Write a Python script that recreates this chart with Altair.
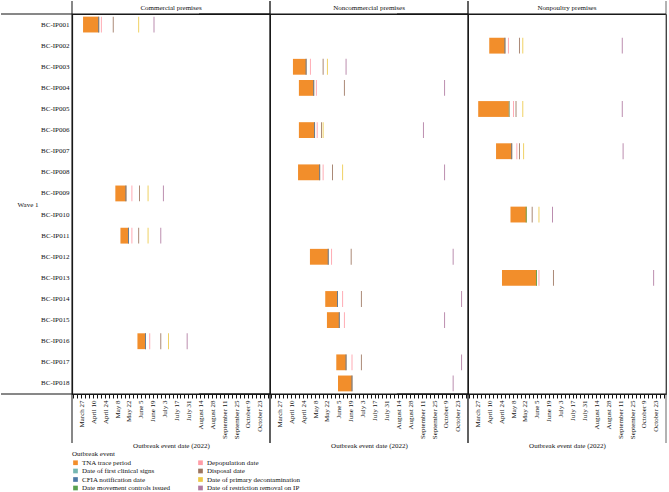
import altair as alt
import pandas as pd
from datetime import datetime, timezone

# ---------------- data ----------------
ips = ["BC-IP001", "BC-IP002", "BC-IP003", "BC-IP004", "BC-IP005", "BC-IP006",
       "BC-IP007", "BC-IP008", "BC-IP009", "BC-IP010", "BC-IP011", "BC-IP012",
       "BC-IP013", "BC-IP014", "BC-IP015", "BC-IP016", "BC-IP017", "BC-IP018"]
premises = ["Commercial premises", "Nonpoultry premises", "Noncommercial premises",
            "Noncommercial premises", "Nonpoultry premises", "Noncommercial premises",
            "Nonpoultry premises", "Noncommercial premises", "Commercial premises",
            "Nonpoultry premises", "Commercial premises", "Noncommercial premises",
            "Nonpoultry premises", "Noncommercial premises", "Noncommercial premises",
            "Commercial premises", "Noncommercial premises", "Noncommercial premises"]
premises_order = ["Commercial premises", "Noncommercial premises", "Nonpoultry premises"]
wave_label = "Wave 1"

trace_start = ["2022-03-29", "2022-04-10", "2022-04-12", "2022-04-19", "2022-03-28", "2022-04-19",
               "2022-04-18", "2022-04-18", "2022-05-06", "2022-05-05", "2022-05-12", "2022-05-02",
               "2022-04-25", "2022-05-20", "2022-05-22", "2022-06-01", "2022-06-02", "2022-06-04"]
trace_end = ["2022-04-17", "2022-04-29", "2022-04-28", "2022-05-07", "2022-05-04", "2022-05-08",
             "2022-05-07", "2022-05-14", "2022-05-19", "2022-05-24", "2022-05-22", "2022-05-24",
             "2022-06-05", "2022-06-04", "2022-06-06", "2022-06-11", "2022-06-14", "2022-06-21"]
# event shown at the right edge of the trace bar
edge_event = ["CFIA notification date", "CFIA notification date", "CFIA notification date",
              "CFIA notification date", "Date of first clinical signs", "CFIA notification date",
              "CFIA notification date", "CFIA notification date", "CFIA notification date",
              "Date movement controls issued", "CFIA notification date", "CFIA notification date",
              "Date movement controls issued", "CFIA notification date", "CFIA notification date",
              "CFIA notification date", "CFIA notification date", "CFIA notification date"]
edge_date = ["2022-04-16", "2022-04-28", "2022-04-27", "2022-05-06", "2022-05-03", "2022-05-07",
             "2022-05-06", "2022-05-13", "2022-05-18", "2022-05-23", "2022-05-21", "2022-05-23",
             "2022-06-04", "2022-06-03", "2022-06-05", "2022-06-10", "2022-06-13", "2022-06-20"]
depopulation = ["2022-04-19", "2022-05-02", "2022-05-02", "2022-05-09", "2022-05-08", "2022-05-10",
                "2022-05-12", "2022-05-17", "2022-05-25", None, "2022-05-25", "2022-05-27",
                "2022-06-07", "2022-06-09", "2022-06-11", "2022-06-15", "2022-06-20", None]
disposal = ["2022-05-03", "2022-05-15", "2022-05-17", "2022-06-11", "2022-05-11", "2022-05-15",
            "2022-05-15", "2022-05-28", "2022-06-03", "2022-05-30", "2022-06-02", "2022-06-19",
            "2022-06-24", "2022-07-01", None, "2022-06-28", "2022-07-01", None]
decontamination = ["2022-06-02", "2022-05-19", "2022-05-22", None, "2022-05-19", "2022-05-17",
                   "2022-05-20", "2022-06-09", "2022-06-13", "2022-06-07", "2022-06-13", None,
                   None, None, None, "2022-07-07", None, None]
restriction_removal = ["2022-06-20", "2022-09-13", "2022-06-13", "2022-10-07", "2022-09-13", "2022-09-12",
                       "2022-09-14", "2022-10-07", "2022-07-01", "2022-06-23", "2022-06-28", "2022-10-17",
                       "2022-10-20", "2022-10-27", "2022-10-07", "2022-07-29", "2022-10-27", "2022-10-17"]

events = ["TNA trace period", "Date of first clinical signs", "CFIA notification date",
          "Date movement controls issued", "Depopulation date", "Disposal date",
          "Date of primary decontamination", "Date of restriction removal on IP"]
event_colors = ["#F28E2B", "#76B7B2", "#4E79A7", "#59A14F",
                "#FF9DA7", "#9C755F", "#EDC948", "#B07AA1"]

tick_labels_start = "2022-03-27"   # first labelled tick; labels every 14 days
domain_start = "2022-03-16"
domain_end = "2022-11-04"

# ---------------- table ----------------
rows = []
for i, ip in enumerate(ips):
    rows.append(dict(ip=ip, premises=premises[i], event=events[0],
                     start=trace_start[i], end=trace_end[i]))
single = [(edge_event, edge_date, None), (None, depopulation, events[4]),
          (None, disposal, events[5]), (None, decontamination, events[6]),
          (None, restriction_removal, events[7])]
for ev_list, dates, ev_name in single:
    for i, ip in enumerate(ips):
        d = dates[i]
        if d is None:
            continue
        name = ev_list[i] if ev_list is not None else ev_name
        d1 = (pd.Timestamp(d) + pd.Timedelta(days=1)).strftime("%Y-%m-%d")
        rows.append(dict(ip=ip, premises=premises[i], event=name, start=d, end=d1))
df = pd.DataFrame(rows)


def ms(s):
    return int(datetime.strptime(s, "%Y-%m-%d").replace(tzinfo=timezone.utc).timestamp() * 1000)


d0, d1 = ms(domain_start), ms(domain_end)
t0 = ms(tick_labels_start)
step = 112 * 3600 * 1000          # 3 minor ticks per fortnight
period = 14 * 24 * 3600 * 1000
tick_vals = []
t = t0
while t - step >= d0:
    t -= step
while t <= d1:
    tick_vals.append(t)
    t += step

FONT = "Liberation Serif"
INK = "#111"
W, H = 198, 380
LEFT, TOP, BOTTOM_EXT = 71, 13, 49   # frame lines reaching out of each panel

bars = alt.Chart().mark_rect().encode(
    x=alt.X("start:T",
            scale=alt.Scale(type="utc", domain=[d0, d1]),
            axis=alt.Axis(values=tick_vals, grid=False, labelAngle=-90, labelFontSize=7,
                          labelFont=FONT, labelColor=INK, tickColor=INK, tickSize=4,
                          labelPadding=2, domainColor=INK, labelOverlap=False, labelBound=False,
                          labelFlush=False,
                          labelExpr=f"(time(datum.value) - {t0}) % {period} == 0 ? utcFormat(datum.value, '%B %-d') : ''",
                          title="Outbreak event date (2022)", titleFont=FONT, titleFontSize=7,
                          titleFontWeight="normal", titleColor=INK, titlePadding=3)),
    x2="end:T",
    y=alt.Y("ip:N", scale=alt.Scale(domain=ips, paddingInner=0.25, paddingOuter=0.125),
            axis=alt.Axis(title=wave_label, titleAngle=0, titleAlign="right", titleBaseline="middle",
                          titleX=-34, titleY=190, titleFont=FONT, titleFontSize=7,
                          titleFontWeight="normal", titleColor=INK,
                          ticks=False, grid=False, labelFont=FONT, labelFontSize=7,
                          labelColor=INK, labelPadding=3, domainColor=INK, domainWidth=1.2)),
    color=alt.Color("event:N", scale=alt.Scale(domain=events, range=event_colors),
                    legend=alt.Legend(title="Outbreak event", orient="bottom", columns=2,
                                      direction="vertical",
                                      titleFont=FONT, titleFontSize=7, titleFontWeight="normal",
                                      titleColor=INK, labelFont=FONT, labelFontSize=7,
                                      labelColor=INK, symbolType="square", symbolSize=22,
                                      symbolStrokeWidth=0, rowPadding=0.5, columnPadding=26,
                                      labelOffset=3, titlePadding=2, offset=1, padding=0,
                                      labelLimit=200)),
)

one_per_panel = alt.Chart().transform_aggregate(n="count()", groupby=["premises"])
frame_left = one_per_panel.mark_rule(color=INK, strokeWidth=1).encode(
    x=alt.value(0), y=alt.value(-TOP), y2=alt.value(H + BOTTOM_EXT))
frame_right = one_per_panel.mark_rule(color="#666", strokeWidth=1).encode(
    x=alt.value(W), y=alt.value(-TOP), y2=alt.value(H + BOTTOM_EXT))
frame_top = one_per_panel.mark_rule(color=INK, strokeWidth=1).encode(
    x=alt.value(-LEFT), x2=alt.value(W), y=alt.value(0))
frame_bottom = one_per_panel.mark_rule(color=INK, strokeWidth=1).encode(
    x=alt.value(-LEFT), x2=alt.value(W), y=alt.value(H))

chart = alt.layer(bars, frame_left, frame_right, frame_top, frame_bottom, data=df).properties(
    width=W, height=H
).facet(
    column=alt.Column("premises:N", sort=premises_order,
                      header=alt.Header(title=None, labelFont=FONT, labelFontSize=7,
                                        labelColor=INK, labelPadding=3)),
    spacing=0,
    bounds="flush",
).configure_view(stroke="#222", strokeWidth=1).properties(
    padding={"left": 0, "top": 0, "right": 2, "bottom": 0}
)

chart.save("out.html", embed_options={"renderer": "svg", "actions": False})
